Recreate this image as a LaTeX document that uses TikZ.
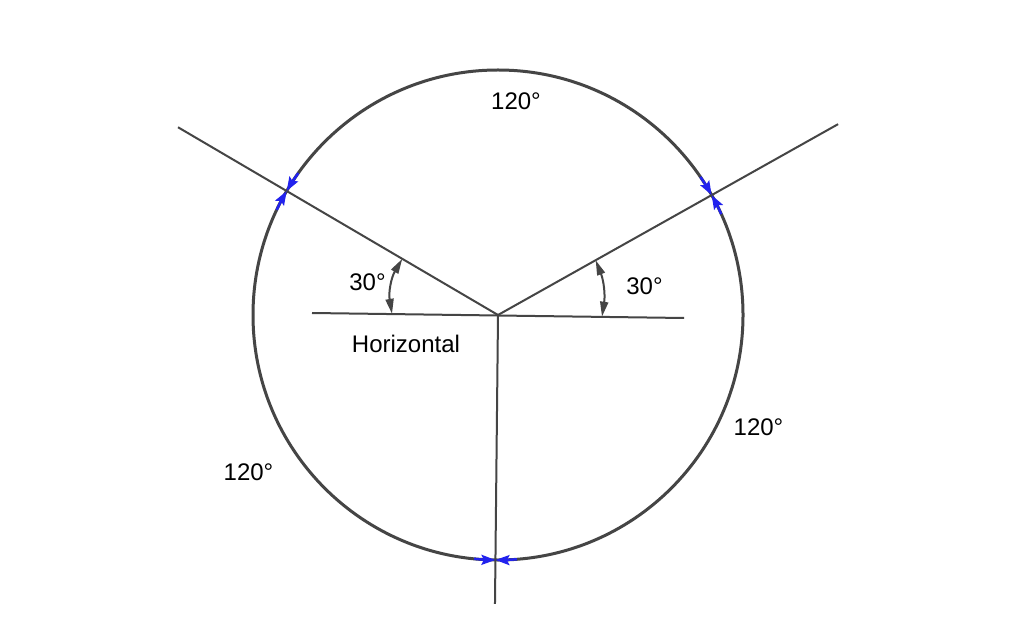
\documentclass[tikz,border=0pt]{standalone}
\usepackage{fontspec}
\setmainfont{Liberation Sans}
\usepackage{tikz}
\usetikzlibrary{arrows.meta}
\usetikzlibrary{calc}
\definecolor{linegray}{HTML}{454545}
\definecolor{tickblue}{HTML}{2222EE}

\begin{document}
\begin{tikzpicture}[x=1pt, y=1pt,
        rim/.style={draw=linegray, line width=3pt},
        ray/.style={draw=linegray, line width=2pt},
        angarrow/.style={draw=linegray, line width=2pt, {Triangle[length=15pt,width=8pt]}-{Triangle[length=15pt,width=8pt]}},
        tick/.style={draw=tickblue, line width=2.5pt, -{Stealth[length=14pt,width=10pt,inset=2.5pt]}},
        lbl/.style={font=\fontsize{24}{28}\selectfont, inner sep=0pt}]
        \fill[white] (0,0) rectangle (1024,627);
        \useasboundingbox (0,0) rectangle (1024,627);
        \coordinate (O) at (498,312);
        \coordinate (A) at ($(O)+(149.6:371)$);
        \coordinate (B) at ($(O)+(29.3:390)$);
        \coordinate (C) at ($(O)+(269.4:289)$);
        \coordinate (H1) at (312,314);
        \coordinate (H2) at (684,309);
        \draw[rim] (O) circle[radius=245];
        \draw[ray] (O) -- (A);
        \draw[ray] (O) -- (B);
        \draw[ray] (O) -- (C);
        \draw[ray] (H1) -- (H2);
        \foreach \a in {149.6, 29.3, 269.4} {
            \draw[tick] ($(O)+(\a+5:245)$) arc[start angle=\a+5, end angle=\a, radius=245];
            \draw[tick] ($(O)+(\a-5:245)$) arc[start angle=\a-5, end angle=\a, radius=245];
        }
        \draw[angarrow] ($(O)!106pt!(H1)$) to[bend left=20] ($(O)!111pt!(A)$);
        \draw[angarrow] ($(O)!104pt!(H2)$) to[bend right=15] ($(O)!112pt!(B)$);
        \node[lbl] (arcTop) at (516,526) {120°};
        \node[lbl] (arcRight) at (758.5,200) {120°};
        \node[lbl] (arcLeft) at (248.5,155) {120°};
        \node[lbl] (angLeft) at (367.5,345) {30°};
        \node[lbl] (angRight) at (644.5,340.5) {30°};
        \node[lbl] (horiz) at (406,283.5) {Horizontal};
    \end{tikzpicture}
\end{document}
